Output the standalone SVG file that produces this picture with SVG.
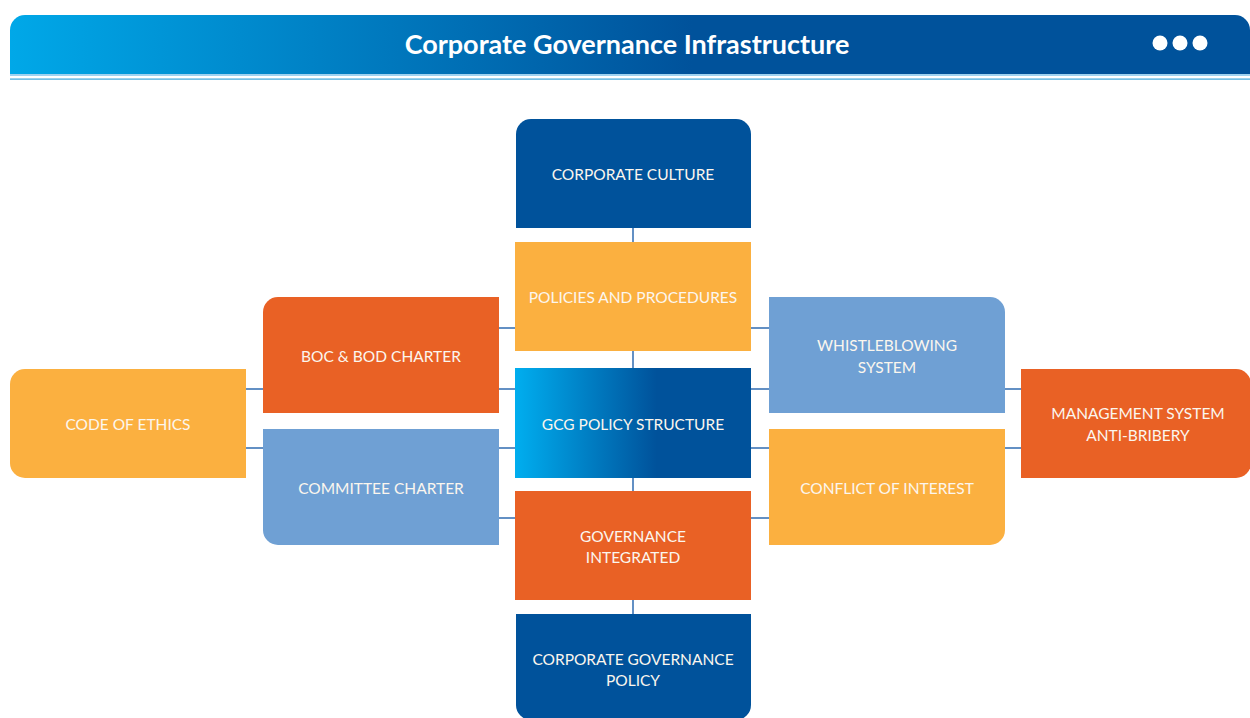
<svg xmlns="http://www.w3.org/2000/svg" width="1250" height="718" viewBox="0 0 1250 718">
  <defs>
    <linearGradient id="hdr" x1="10" y1="0" x2="1250" y2="0" gradientUnits="userSpaceOnUse">
      <stop offset="0" stop-color="#00a8e8"/>
      <stop offset="0.55" stop-color="#00529b"/>
      <stop offset="1" stop-color="#00529b"/>
    </linearGradient>
    <linearGradient id="gcg" x1="0" y1="0" x2="1" y2="0">
      <stop offset="0" stop-color="#00aeef"/>
      <stop offset="0.6" stop-color="#00529b"/>
      <stop offset="1" stop-color="#00529b"/>
    </linearGradient>
    <style>
      .t{font-family:Lato,"Noto Sans",sans-serif;font-size:15.5px;fill:#fbf6ee;text-anchor:middle;dominant-baseline:central}
      .navy{fill:#00529b}
      .amber{fill:#fbb040}
      .orange{fill:#e96125}
      .sky{fill:#6fa0d4}
      .c{stroke:#2f6bb0;stroke-width:1.5;fill:none}
    </style>
  </defs>

  <g id="header">
    <path d="M10 74 V30 A15 15 0 0 1 25 15 H1235 A15 15 0 0 1 1250 30 V74 Z" fill="url(#hdr)"/>
    <rect x="10" y="74" width="1240" height="2" fill="#9fd2f0"/>
    <rect x="10" y="78.5" width="1240" height="1.2" fill="#3aa6dc"/>
    <text x="627" y="43" font-family="Lato,'Noto Sans',sans-serif" font-size="27" font-weight="bold" fill="#ffffff" text-anchor="middle" dominant-baseline="central">Corporate Governance Infrastructure</text>
    <circle cx="1160" cy="43" r="7.5" fill="#fff"/>
    <circle cx="1180" cy="43" r="7.5" fill="#fff"/>
    <circle cx="1200" cy="43" r="7.5" fill="#fff"/>
  </g>

  <g id="connectors">
    <line class="c" x1="633" y1="228" x2="633" y2="242"/>
    <line class="c" x1="633" y1="351" x2="633" y2="368"/>
    <line class="c" x1="633" y1="478" x2="633" y2="491"/>
    <line class="c" x1="633" y1="600" x2="633" y2="614"/>
    <line class="c" x1="246" y1="389" x2="263" y2="389"/>
    <line class="c" x1="246" y1="448" x2="263" y2="448"/>
    <line class="c" x1="499" y1="328" x2="515" y2="328"/>
    <line class="c" x1="499" y1="389" x2="515" y2="389"/>
    <line class="c" x1="499" y1="448" x2="515" y2="448"/>
    <line class="c" x1="499" y1="518" x2="515" y2="518"/>
    <line class="c" x1="751" y1="328" x2="769" y2="328"/>
    <line class="c" x1="751" y1="389" x2="769" y2="389"/>
    <line class="c" x1="751" y1="448" x2="769" y2="448"/>
    <line class="c" x1="751" y1="518" x2="769" y2="518"/>
    <line class="c" x1="1005" y1="389" x2="1021" y2="389"/>
    <line class="c" x1="1005" y1="448" x2="1021" y2="448"/>
  </g>

  <g id="corporate-culture">
    <path class="navy" d="M516 228 V134 A15 15 0 0 1 531 119 H736 A15 15 0 0 1 751 134 V228 Z"/>
    <text class="t" x="633" y="174">CORPORATE CULTURE</text>
  </g>
  <g id="policies-procedures">
    <rect class="amber" x="515" y="242" width="236" height="109"/>
    <text class="t" x="633" y="297">POLICIES AND PROCEDURES</text>
  </g>
  <g id="gcg-policy-structure">
    <rect x="515" y="368" width="236" height="110" fill="url(#gcg)"/>
    <text class="t" x="633" y="424">GCG POLICY STRUCTURE</text>
  </g>
  <g id="governance-integrated">
    <rect class="orange" x="515" y="491" width="236" height="109"/>
    <text class="t" x="633" y="536">GOVERNANCE</text>
    <text class="t" x="633" y="557">INTEGRATED</text>
  </g>
  <g id="corporate-governance-policy">
    <path class="navy" d="M516 614 H751 V705 A15 15 0 0 1 736 720 H531 A15 15 0 0 1 516 705 Z"/>
    <text class="t" x="633" y="659">CORPORATE GOVERNANCE</text>
    <text class="t" x="633" y="680">POLICY</text>
  </g>
  <g id="boc-bod-charter">
    <path class="orange" d="M263 413 V312 A15 15 0 0 1 278 297 H499 V413 Z"/>
    <text class="t" x="381" y="356">BOC &amp; BOD CHARTER</text>
  </g>
  <g id="committee-charter">
    <path class="sky" d="M263 429 H499 V545 H278 A15 15 0 0 1 263 530 Z"/>
    <text class="t" x="381" y="488">COMMITTEE CHARTER</text>
  </g>
  <g id="whistleblowing-system">
    <path class="sky" d="M769 297 H990 A15 15 0 0 1 1005 312 V413 H769 Z"/>
    <text class="t" x="887" y="345">WHISTLEBLOWING</text>
    <text class="t" x="887" y="367">SYSTEM</text>
  </g>
  <g id="conflict-of-interest">
    <path class="amber" d="M769 429 H1005 V530 A15 15 0 0 1 990 545 H769 Z"/>
    <text class="t" x="887" y="488">CONFLICT OF INTEREST</text>
  </g>
  <g id="code-of-ethics">
    <path class="amber" d="M246 369 V478 H25 A15 15 0 0 1 10 463 V384 A15 15 0 0 1 25 369 Z"/>
    <text class="t" x="128" y="424">CODE OF ETHICS</text>
  </g>
  <g id="management-system-anti-bribery">
    <path class="orange" d="M1021 369 H1236 A15 15 0 0 1 1251 384 V463 A15 15 0 0 1 1236 478 H1021 Z"/>
    <text class="t" x="1138" y="413">MANAGEMENT SYSTEM</text>
    <text class="t" x="1138" y="435">ANTI-BRIBERY</text>
  </g>
</svg>
